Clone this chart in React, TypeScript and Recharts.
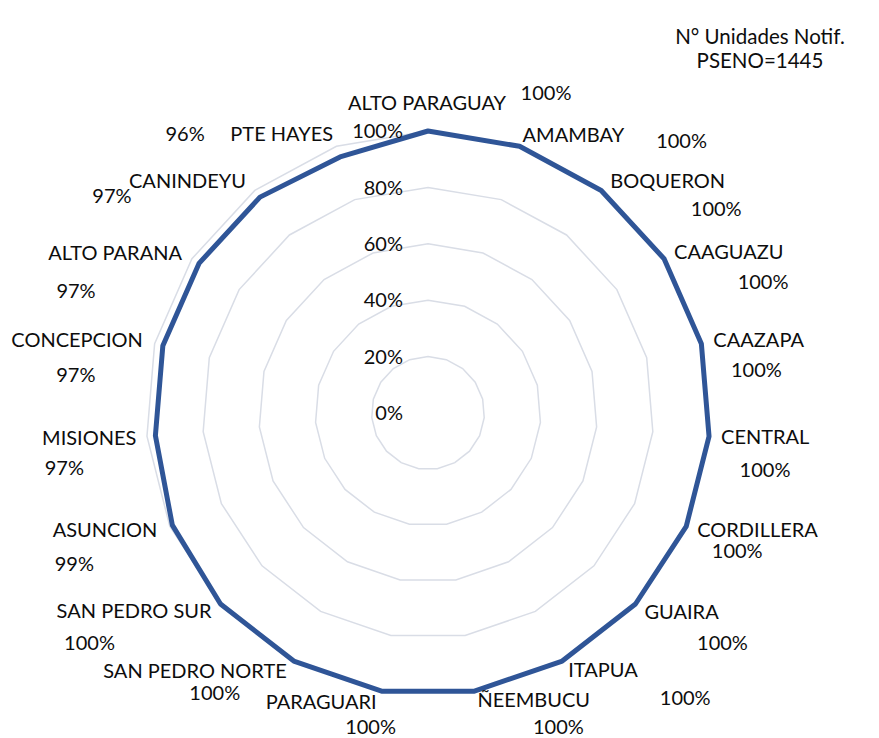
import React from 'react';
import { RadarChart, Radar, PolarGrid, PolarAngleAxis, PolarRadiusAxis } from 'recharts';

const departments = [
  'ALTO PARAGUAY', 'AMAMBAY', 'BOQUERON', 'CAAGUAZU', 'CAAZAPA', 'CENTRAL', 'CORDILLERA',
  'GUAIRA', 'ITAPUA', 'ÑEEMBUCU', 'PARAGUARI', 'SAN PEDRO NORTE', 'SAN PEDRO SUR',
  'ASUNCION', 'MISIONES', 'CONCEPCION', 'ALTO PARANA', 'CANINDEYU', 'PTE HAYES',
];
const percentages = [100, 100, 100, 100, 100, 100, 100, 100, 100, 100, 100, 100, 100, 99, 97, 97, 97, 97, 96];
const radiusTicks = [0, 20, 40, 60, 80, 100];
const titleLines = ['N° Unidades Notif.', 'PSENO=1445'];

const data = departments.map((name, i) => ({ name, value: percentages[i] }));

// label layout (offsets from each plotted point)
const NAME_OFFSETS: [number, number, 'start' | 'middle' | 'end'][] = [
  [-1, -28, 'middle'], [3, -11, 'start'], [9, -10, 'start'], [10, -7, 'start'], [12, -4, 'start'],
  [12, 1, 'start'], [11, 4, 'start'], [9, 8, 'start'], [6, 9, 'start'], [3, 9, 'start'],
  [-5, 11, 'end'], [-7, 10, 'end'], [-9, 7, 'end'], [-15, 5, 'end'], [-19, 2, 'end'],
  [-20, -6, 'end'], [-17, -11, 'end'], [-14, -16, 'end'], [-7, -23, 'end'],
];
const VALUE_OFFSETS: [number, number][] = [
  [118, -38], [162, -5], [115, 18], [99, 23], [55, 26], [56, 34], [51, 25], [87, 39], [123, 37],
  [84, 36], [-11, 36], [-79, 32], [-131, 39], [-98, 39], [-91, 32], [-87, 29], [-123, 27],
  [-148, -1], [-155, -23],
];

const FONT = 'Lato, "Open Sans", sans-serif';
const TEXT_COLOR = '#0d0d0d';

const renderLabels = (props: any) => {
  const { cx, cy, index } = props;
  const [nx, ny, anchor] = NAME_OFFSETS[index];
  const [vx, vy] = VALUE_OFFSETS[index];
  return (
    <g key={`lbl-${index}`}>
      <text x={cx + nx} y={cy + ny} dy="0.36em" textAnchor={anchor} fontSize={20} fontFamily={FONT} fill={TEXT_COLOR}>
        {departments[index]}
      </text>
      <text x={cx + vx} y={cy + vy} dy="0.36em" textAnchor="middle" fontSize={20} fontFamily={FONT} fill={TEXT_COLOR}>
        {`${percentages[index]}%`}
      </text>
    </g>
  );
};

const RadiusTick = (props: any) => {
  const { x, y, payload } = props;
  return (
    <text x={x - 25} y={y} dy="0.36em" textAnchor="end" fontSize={20} fontFamily={FONT} fill={TEXT_COLOR}>
      {`${payload.value}%`}
    </text>
  );
};

export default function App() {
  return (
    <div style={{ position: 'absolute', left: 0, top: 0, width: 879, height: 738, background: '#fff', fontFamily: FONT }}>
      <RadarChart
        width={879}
        height={738}
        data={data}
        cx={428}
        cy={413}
        outerRadius={282}
        margin={{ top: 0, right: 0, bottom: 0, left: 0 }}
      >
        <PolarGrid gridType="polygon" radialLines={false} stroke="#D9DDE6" strokeWidth={1.5} />
        <PolarAngleAxis dataKey="name" tick={false} axisLine={false} tickLine={false} />
        <PolarRadiusAxis
          angle={90}
          domain={[0, 100]}
          ticks={radiusTicks as any}
          tickCount={6}
          axisLine={false}
          tickLine={false}
          tick={<RadiusTick />}
        />
        <Radar
          dataKey="value"
          stroke="#2F5597"
          strokeWidth={5}
          strokeLinejoin="round"
          fill="none"
          fillOpacity={0}
          dot={renderLabels}
          isAnimationActive={false}
        />
      </RadarChart>
      <div
        style={{
          position: 'absolute', left: 640, top: 24, width: 240, textAlign: 'center',
          fontSize: 20.5, lineHeight: '24px', color: TEXT_COLOR, fontFamily: FONT,
        }}
      >
        {titleLines.map((l) => (
          <div key={l}>{l}</div>
        ))}
      </div>
    </div>
  );
}
